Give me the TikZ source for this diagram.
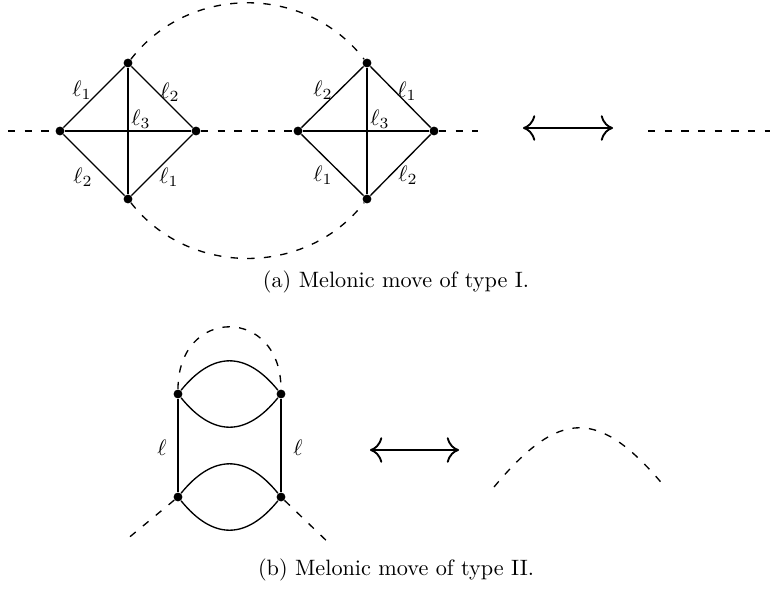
\documentclass[tikz,border=0pt]{standalone}
\usepackage{tikz}
\usetikzlibrary{arrows.meta}

\begin{document}
\begin{tikzpicture}[x=0.45pt,y=-0.45pt,
  vert/.style={circle,fill=black,inner sep=0pt,minimum size=4pt},
  edge/.style={line width=0.6pt},
  prop/.style={line width=0.6pt,dash pattern=on 3.3pt off 4.2pt},
  equiv/.style={line width=0.85pt,{Computer Modern Rightarrow[length=5.5pt,width=11.5pt]}-{Computer Modern Rightarrow[length=5.5pt,width=11.5pt]}},
  lab/.style={inner sep=0pt}]

\useasboundingbox (0,0) rectangle (770,588);

% (a) two melons
\node[vert] (lL) at (60,131) {};
\node[vert] (lT) at (128,63) {};
\node[vert] (lR) at (196,131) {};
\node[vert] (lB) at (128,199) {};

\node[vert] (rL) at (298,131) {};
\node[vert] (rT) at (367,63) {};
\node[vert] (rR) at (434,131) {};
\node[vert] (rB) at (367,199) {};

\draw[edge] (lL) -- (lT) -- (lR) -- (lB) -- (lL);
\draw[edge] (lL) -- (lR);
\draw[edge] (lT) -- (lB);
\draw[edge] (rL) -- (rT) -- (rR) -- (rB) -- (rL);
\draw[edge] (rL) -- (rR);
\draw[edge] (rT) -- (rB);

\coordinate (inA) at (8,131);
\coordinate (outA) at (478,131);
\draw[prop] (inA) -- (lL);
\draw[prop] (lR) -- (rL);
\draw[prop] (rR) -- (outA);
\draw[prop] (lT) .. controls +(61,-79) and +(-61,-79) .. (rT);
\draw[prop] (lB) .. controls +(61,78) and +(-61,78) .. (rB);

\node[lab] (l1a) at (82,90) {$\ell_1$};
\node[lab] (l2a) at (170,92) {$\ell_2$};
\node[lab] (l3a) at (141,119) {$\ell_3$};
\node[lab] (l2b) at (83,177) {$\ell_2$};
\node[lab] (l1b) at (169,177) {$\ell_1$};

\node[lab] (l2c) at (323,90) {$\ell_2$};
\node[lab] (l1c) at (407,91) {$\ell_1$};
\node[lab] (l3c) at (380,119) {$\ell_3$};
\node[lab] (l1d) at (323,175) {$\ell_1$};
\node[lab] (l2d) at (408,175) {$\ell_2$};

\coordinate (eqA1) at (523,128);
\coordinate (eqA2) at (613,128);
\draw[equiv] (eqA1) -- (eqA2);

\coordinate (lineA1) at (648,131);
\coordinate (lineA2) at (770,131);
\draw[prop] (lineA1) -- (lineA2);

\node (capA) at (396,282) {(a) Melonic move of type I.};

% (b) melon on a line
\node[vert] (m1) at (178,394) {};
\node[vert] (m2) at (281,394) {};
\node[vert] (m3) at (178,497) {};
\node[vert] (m4) at (281,497) {};

\draw[edge] (m1) -- (m3);
\draw[edge] (m2) -- (m4);
\draw[edge] (m1) .. controls +(35,-43) and +(-35,-43) .. (m2);
\draw[edge] (m1) .. controls +(35,43) and +(-35,43) .. (m2);
\draw[edge] (m3) .. controls +(35,-43) and +(-35,-43) .. (m4);
\draw[edge] (m3) .. controls +(35,43) and +(-35,43) .. (m4);

\draw[prop] (m1) .. controls +(0,-88) and +(0,-88) .. (m2);
\coordinate (inB) at (126,540);
\coordinate (outB) at (332,546);
\draw[prop] (m3) -- (inB);
\draw[prop] (m4) -- (outB);

\node[lab] (lm1) at (162,448) {$\ell$};
\node[lab] (lm2) at (298,448) {$\ell$};

\coordinate (eqB1) at (370,450);
\coordinate (eqB2) at (459,450);
\draw[equiv] (eqB1) -- (eqB2);

\coordinate (archL) at (494,487);
\coordinate (archR) at (665,487);
\draw[prop] (archL) .. controls +(66,-79) and +(-66,-79) .. (archR);

\node (capB) at (396,570) {(b) Melonic move of type II.};

\end{tikzpicture}
\end{document}
